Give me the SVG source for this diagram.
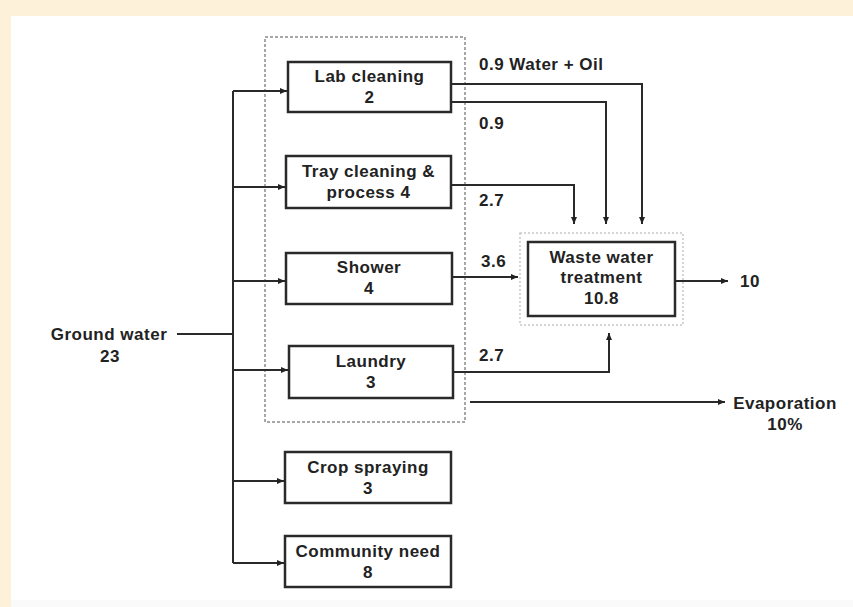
<svg xmlns="http://www.w3.org/2000/svg" width="853" height="607" viewBox="0 0 853 607">
<defs>
<marker id="ah" markerWidth="8" markerHeight="7" refX="7" refY="3.5" orient="auto" markerUnits="userSpaceOnUse">
<path d="M0,0.5 L7,3.5 L0,6.5 z" fill="#222"/>
</marker>
<style>
text{font-family:"Liberation Sans",Arial,sans-serif;font-weight:bold;font-size:17px;letter-spacing:0.5px;fill:#222}
.c{text-anchor:middle}
.box{fill:#fff;stroke:#2a2a2a;stroke-width:2.5}
.ln{fill:none;stroke:#2a2a2a;stroke-width:2}
.ar{fill:none;stroke:#2a2a2a;stroke-width:2;marker-end:url(#ah)}
</style>
</defs>
<rect x="0" y="0" width="853" height="607" fill="#fdf1d9"/>
<rect x="11" y="16" width="842" height="591" fill="#ffffff"/>
<rect x="11" y="600" width="842" height="7" fill="#fafafa"/>

<g id="group-boundary">
<rect x="265" y="37" width="200" height="385" fill="none" stroke="#8a8a8a" stroke-width="1.5" stroke-dasharray="3,2"/>
</g>

<g id="connectors">
<path class="ln" d="M177,334 H233"/>
<path class="ln" d="M233,91 V563"/>
<path class="ar" d="M233,91 H287"/>
<path class="ar" d="M233,187 H285"/>
<path class="ar" d="M233,281 H285"/>
<path class="ar" d="M233,370 H288"/>
<path class="ar" d="M233,481 H284"/>
<path class="ar" d="M233,563 H284"/>
<path class="ar" d="M451,84 H642 V224"/>
<path class="ar" d="M451,102 H606 V224"/>
<path class="ar" d="M451,185 H574 V224"/>
<path class="ar" d="M452,277 H518"/>
<path class="ar" d="M453,372 H609 V333"/>
<path class="ar" d="M675,281 H728"/>
<path class="ar" d="M470,402 H725"/>
</g>

<g id="ground-water">
<text class="c" x="109" y="340">Ground water</text>
<text class="c" x="110" y="362">23</text>
</g>

<g id="lab-cleaning">
<rect class="box" x="288" y="62" width="163" height="50"/>
<text class="c" x="369.5" y="82">Lab cleaning</text>
<text class="c" x="369.5" y="103">2</text>
</g>

<g id="tray-cleaning">
<rect class="box" x="286" y="156" width="165" height="52"/>
<text class="c" x="368.5" y="177">Tray cleaning &amp;</text>
<text class="c" x="368.5" y="198">process 4</text>
</g>

<g id="shower">
<rect class="box" x="286" y="253" width="166" height="51"/>
<text class="c" x="369" y="273">Shower</text>
<text class="c" x="369" y="294">4</text>
</g>

<g id="laundry">
<rect class="box" x="289" y="346" width="164" height="52"/>
<text class="c" x="371" y="367">Laundry</text>
<text class="c" x="371" y="388">3</text>
</g>

<g id="crop-spraying">
<rect class="box" x="285" y="452" width="166" height="51"/>
<text class="c" x="368" y="473">Crop spraying</text>
<text class="c" x="368" y="494">3</text>
</g>

<g id="community-need">
<rect class="box" x="285" y="536" width="166" height="51"/>
<text class="c" x="368" y="557">Community need</text>
<text class="c" x="368" y="578">8</text>
</g>

<g id="waste-water-treatment">
<rect x="520" y="233" width="163" height="92" fill="none" stroke="#c8c8c8" stroke-width="1.5" stroke-dasharray="2,2"/>
<rect class="box" x="528" y="242" width="147" height="74"/>
<text class="c" x="601.5" y="263">Waste water</text>
<text class="c" x="601.5" y="283">treatment</text>
<text class="c" x="601.5" y="304">10.8</text>
</g>

<g id="output-10">
<text x="740" y="287">10</text>
</g>

<g id="evaporation">
<text class="c" x="785" y="409">Evaporation</text>
<text class="c" x="785" y="430">10%</text>
</g>

<g id="labels">
<text x="479" y="70">0.9 Water + Oil</text>
<text x="479" y="129">0.9</text>
<text x="479" y="206">2.7</text>
<text x="481" y="267">3.6</text>
<text x="479" y="361">2.7</text>
</g>
</svg>
